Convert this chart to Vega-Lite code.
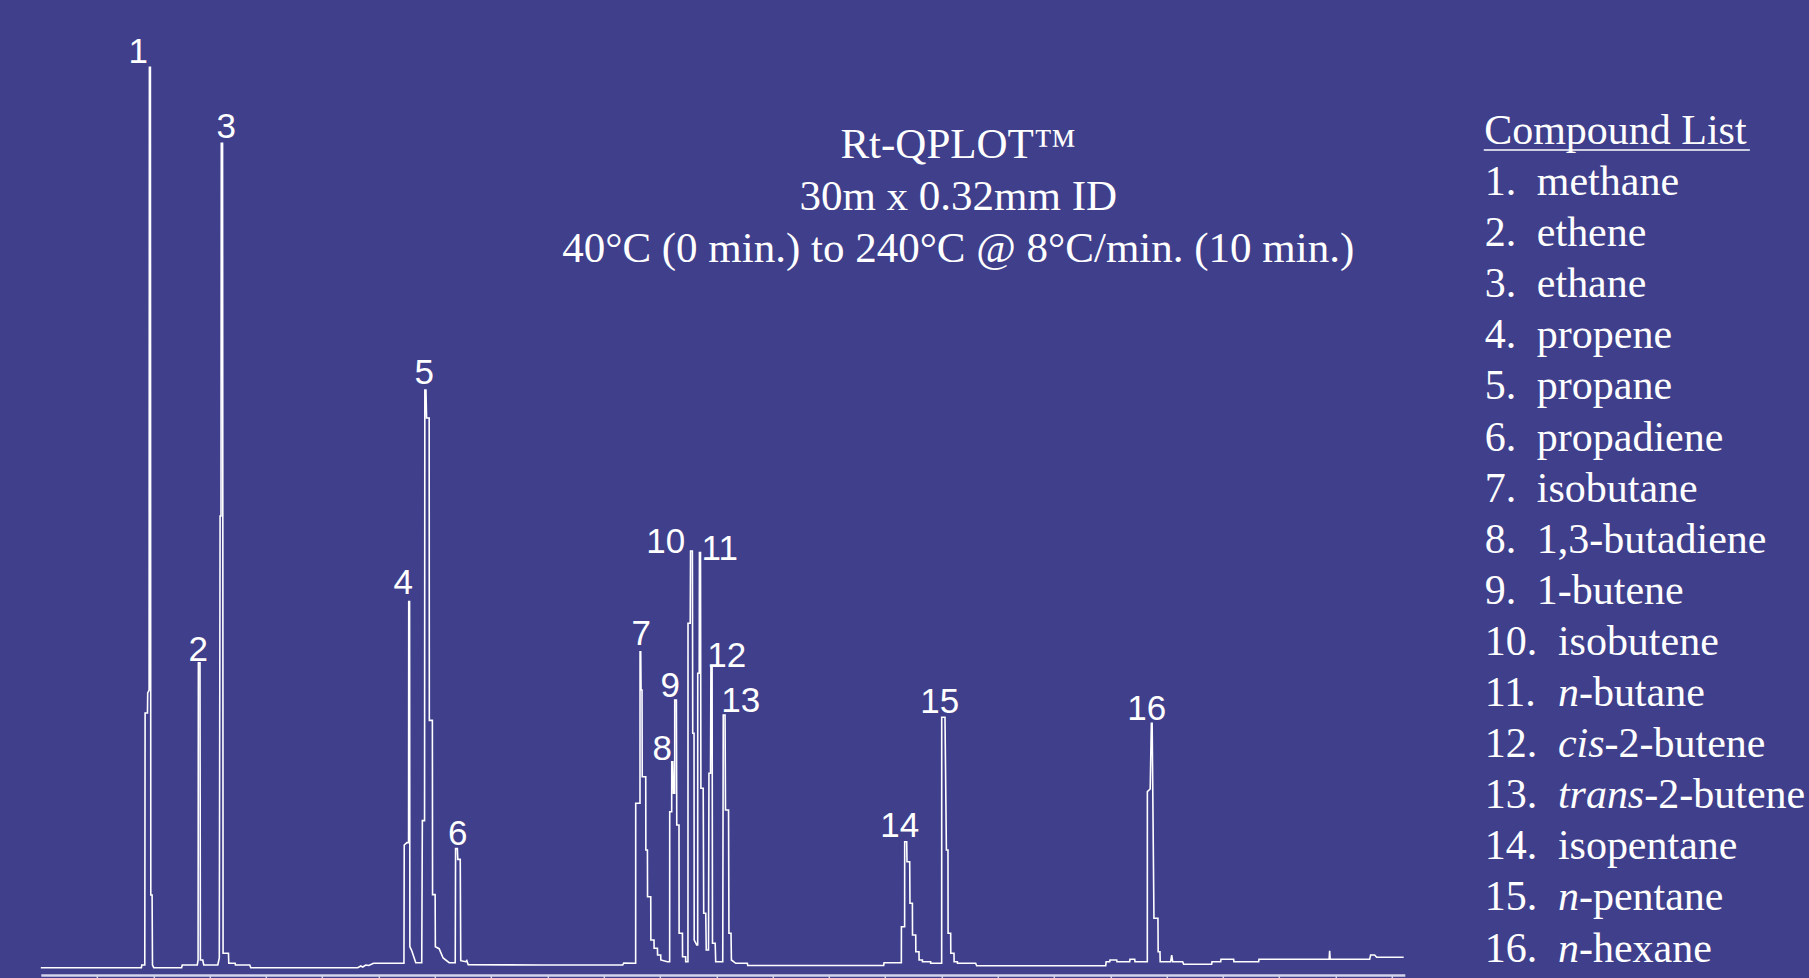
{
  "$schema": "https://vega.github.io/schema/vega-lite/v6.json",
  "background": "#3f3f8c",
  "padding": {"left": 36.8, "top": 0, "right": 0, "bottom": 0},
  "spacing": 0,
  "bounds": "flush",
  "config": {"view": {"stroke": null}},
  "resolve": {"scale": {"x": "independent", "y": "independent"}},
  "datasets": {
    "trace": [{"t":0,"h":7.3},{"t":1.787,"h":7.3},{"t":1.794,"h":10},{"t":1.847,"h":10},{"t":1.853,"h":262},{"t":1.895,"h":262},{"t":1.899,"h":282},{"t":1.924,"h":285},{"t":1.929,"h":907.7},{"t":1.947,"h":907.7},{"t":1.954,"h":80},{"t":1.977,"h":80},{"t":1.984,"h":10},{"t":2.007,"h":7.3},{"t":2.501,"h":7.3},{"t":2.513,"h":10},{"t":2.78,"h":10},{"t":2.794,"h":15},{"t":2.799,"h":312.3},{"t":2.828,"h":312.3},{"t":2.835,"h":15},{"t":2.877,"h":15},{"t":2.895,"h":10},{"t":3.144,"h":10},{"t":3.171,"h":17},{"t":3.185,"h":459},{"t":3.201,"h":459},{"t":3.206,"h":831.7},{"t":3.229,"h":831.7},{"t":3.238,"h":21.7},{"t":3.334,"h":21.7},{"t":3.339,"h":11.7},{"t":3.453,"h":11.7},{"t":3.458,"h":10},{"t":3.712,"h":10},{"t":3.73,"h":7.3},{"t":5.631,"h":7.3},{"t":5.684,"h":9},{"t":5.719,"h":8},{"t":5.773,"h":10},{"t":5.826,"h":9.5},{"t":5.911,"h":11.7},{"t":6.451,"h":11.7},{"t":6.456,"h":130},{"t":6.504,"h":132.4},{"t":6.533,"h":132.4},{"t":6.536,"h":373.5},{"t":6.551,"h":373.5},{"t":6.556,"h":28.3},{"t":6.59,"h":24.3},{"t":6.661,"h":12.3},{"t":6.767,"h":12.3},{"t":6.778,"h":154.4},{"t":6.817,"h":154.4},{"t":6.822,"h":585},{"t":6.842,"h":585},{"t":6.853,"h":557},{"t":6.899,"h":557},{"t":6.902,"h":254.6},{"t":6.956,"h":254.6},{"t":6.959,"h":80.4},{"t":7.005,"h":80.4},{"t":7.009,"h":28.3},{"t":7.076,"h":26.3},{"t":7.147,"h":17},{"t":7.254,"h":12.3},{"t":7.362,"h":12.3},{"t":7.368,"h":126.4},{"t":7.4,"h":126.4},{"t":7.407,"h":115.6},{"t":7.451,"h":115.6},{"t":7.46,"h":14.3},{"t":7.549,"h":13.3},{"t":7.567,"h":14.5},{"t":7.593,"h":10.3},{"t":8.881,"h":10},{"t":10.337,"h":10},{"t":10.355,"h":12},{"t":10.567,"h":11.7},{"t":10.568,"h":171.7},{"t":10.644,"h":171.7},{"t":10.645,"h":323.3},{"t":10.657,"h":323.3},{"t":10.663,"h":285},{"t":10.68,"h":285},{"t":10.684,"h":198.3},{"t":10.746,"h":198.3},{"t":10.748,"h":125},{"t":10.776,"h":125},{"t":10.778,"h":78.3},{"t":10.835,"h":78.3},{"t":10.837,"h":35},{"t":10.893,"h":35},{"t":10.895,"h":26.7},{"t":10.954,"h":26.7},{"t":10.956,"h":20},{"t":11.012,"h":20},{"t":11.014,"h":15},{"t":11.131,"h":13.3},{"t":11.171,"h":13.3},{"t":11.172,"h":163.3},{"t":11.207,"h":163.3},{"t":11.208,"h":213.3},{"t":11.226,"h":213.3},{"t":11.238,"h":181.7},{"t":11.26,"h":181.7},{"t":11.261,"h":275},{"t":11.291,"h":275},{"t":11.297,"h":150},{"t":11.337,"h":150},{"t":11.339,"h":41.7},{"t":11.398,"h":41.7},{"t":11.4,"h":18.3},{"t":11.455,"h":18.3},{"t":11.456,"h":13.3},{"t":11.496,"h":13.3},{"t":11.497,"h":351.7},{"t":11.536,"h":351.7},{"t":11.542,"h":424},{"t":11.575,"h":424},{"t":11.581,"h":241.7},{"t":11.604,"h":241.7},{"t":11.607,"h":35},{"t":11.652,"h":30},{"t":11.669,"h":30},{"t":11.67,"h":301.7},{"t":11.696,"h":301.7},{"t":11.7,"h":422.5},{"t":11.719,"h":422.5},{"t":11.726,"h":186.7},{"t":11.767,"h":186.7},{"t":11.776,"h":61.7},{"t":11.812,"h":61.7},{"t":11.821,"h":25},{"t":11.861,"h":25},{"t":11.869,"h":201.7},{"t":11.897,"h":201.7},{"t":11.904,"h":308.3},{"t":11.925,"h":308.3},{"t":11.932,"h":31.7},{"t":11.98,"h":31.7},{"t":11.989,"h":13.3},{"t":12.114,"h":13.3},{"t":12.123,"h":260},{"t":12.155,"h":260},{"t":12.163,"h":165},{"t":12.217,"h":165},{"t":12.224,"h":41.7},{"t":12.261,"h":41.7},{"t":12.268,"h":15},{"t":12.345,"h":11.7},{"t":12.552,"h":11.7},{"t":12.558,"h":9.5},{"t":14.973,"h":9.5},{"t":14.979,"h":12.3},{"t":15.287,"h":12.3},{"t":15.288,"h":48.3},{"t":15.345,"h":48.3},{"t":15.346,"h":133.3},{"t":15.382,"h":133.3},{"t":15.387,"h":113.3},{"t":15.435,"h":113.3},{"t":15.44,"h":71.7},{"t":15.483,"h":71.7},{"t":15.485,"h":40},{"t":15.542,"h":40},{"t":15.544,"h":23.3},{"t":15.6,"h":23.3},{"t":15.602,"h":15},{"t":15.661,"h":15},{"t":15.662,"h":13.3},{"t":15.807,"h":13.3},{"t":15.808,"h":11.7},{"t":16.003,"h":11.7},{"t":16.004,"h":257.7},{"t":16.062,"h":257.7},{"t":16.087,"h":125},{"t":16.115,"h":125},{"t":16.117,"h":41.7},{"t":16.163,"h":41.7},{"t":16.165,"h":21.7},{"t":16.222,"h":21.7},{"t":16.224,"h":13.3},{"t":16.282,"h":13.3},{"t":16.284,"h":11.7},{"t":16.607,"h":11.7},{"t":16.625,"h":9.3},{"t":18.917,"h":9.3},{"t":18.925,"h":13.3},{"t":18.988,"h":13.3},{"t":18.993,"h":15},{"t":19.112,"h":15},{"t":19.117,"h":13.3},{"t":19.343,"h":13.3},{"t":19.348,"h":15.7},{"t":19.432,"h":15.7},{"t":19.437,"h":13.3},{"t":19.656,"h":13.3},{"t":19.657,"h":183.3},{"t":19.707,"h":186},{"t":19.728,"h":251.7},{"t":19.742,"h":251.7},{"t":19.774,"h":56.7},{"t":19.845,"h":56.7},{"t":19.849,"h":23.3},{"t":19.881,"h":23.3},{"t":19.885,"h":13.3},{"t":20.071,"h":13.3},{"t":20.089,"h":20},{"t":20.107,"h":13.3},{"t":20.284,"h":13.3},{"t":20.302,"h":10.7},{"t":20.799,"h":10.7},{"t":20.805,"h":13.3},{"t":20.959,"h":13.3},{"t":20.965,"h":15.7},{"t":21.19,"h":15.7},{"t":21.195,"h":13.3},{"t":21.634,"h":13.3},{"t":21.639,"h":15.7},{"t":22.886,"h":15.7},{"t":22.895,"h":24.3},{"t":22.904,"h":15.7},{"t":23.606,"h":15.7},{"t":23.623,"h":20},{"t":23.694,"h":20},{"t":23.73,"h":17.7},{"t":24.21,"h":17.7}],
    "peaks": [{"peak":"1","lt":1.732,"lh":912.3},{"peak":"2","lt":2.797,"lh":314},{"peak":"3","lt":3.295,"lh":836.7},{"peak":"4","lt":6.44,"lh":381},{"peak":"5","lt":6.81,"lh":591},{"peak":"6","lt":7.405,"lh":130},{"peak":"7","lt":10.666,"lh":330},{"peak":"8","lt":11.039,"lh":215},{"peak":"9","lt":11.181,"lh":278},{"peak":"10","lt":11.101,"lh":422},{"peak":"11","lt":12.06,"lh":415},{"peak":"12","lt":12.185,"lh":308},{"peak":"13","lt":12.433,"lh":263},{"peak":"14","lt":15.258,"lh":138.3},{"peak":"15","lt":15.968,"lh":261.7},{"peak":"16","lt":19.645,"lh":255}],
    "caption": [{"lines": ["Rt-QPLOT™", "30m x 0.32mm ID", "40°C (0 min.) to 240°C @ 8°C/min. (10 min.)"]}],
    "compounds": [{"id":1,"num":"1.","pre":"","name":"methane"},{"id":2,"num":"2.","pre":"","name":"ethene"},{"id":3,"num":"3.","pre":"","name":"ethane"},{"id":4,"num":"4.","pre":"","name":"propene"},{"id":5,"num":"5.","pre":"","name":"propane"},{"id":6,"num":"6.","pre":"","name":"propadiene"},{"id":7,"num":"7.","pre":"","name":"isobutane"},{"id":8,"num":"8.","pre":"","name":"1,3-butadiene"},{"id":9,"num":"9.","pre":"","name":"1-butene"},{"id":10,"num":"10.","pre":"","name":"isobutene"},{"id":11,"num":"11.","pre":"n","name":"-butane"},{"id":12,"num":"12.","pre":"cis","name":"-2-butene"},{"id":13,"num":"13.","pre":"trans","name":"-2-butene"},{"id":14,"num":"14.","pre":"","name":"isopentane"},{"id":15,"num":"15.","pre":"n","name":"-pentane"},{"id":16,"num":"16.","pre":"n","name":"-hexane"}],
    "heading": [{"title":"Compound List"}]
  },
  "hconcat": [
    {
      "width": 1364,
      "height": 975,
      "layer": [
        {
          "data": {"name": "trace"},
          "mark": {"type": "line", "color": "#ffffff", "strokeWidth": 1.6},
          "encoding": {
            "x": {"field": "t", "type": "quantitative", "title": null,
                  "scale": {"domain": [0, 24.23], "nice": false, "zero": false},
                  "axis": {"values": [1,2,3,4,5,6,7,8,9,10,11,12,13,14,15,16,17,18,19,20,21,22,23,24], "labels": false, "title": null, "grid": false, "tickSize": 10, "tickColor": "#d4d4ee", "tickWidth": 1.5, "domainColor": "#d4d4ee", "domainWidth": 2.5}},
            "y": {"field": "h", "type": "quantitative", "title": null,
                  "scale": {"domain": [0, 975], "nice": false, "zero": false}, "axis": null}
          }
        },
        {
          "data": {"name": "peaks"},
          "mark": {"type": "text", "font": "Liberation Sans", "fontSize": 35, "color": "#ffffff", "align": "center", "baseline": "alphabetic"},
          "encoding": {
            "x": {"field": "lt", "type": "quantitative", "title": null},
            "y": {"field": "lh", "type": "quantitative", "title": null},
            "text": {"field": "peak"}
          }
        },
        {
          "data": {"name": "caption"},
          "mark": {"type": "text", "font": "Liberation Serif", "fontSize": 43, "color": "#ffffff", "align": "center", "baseline": "alphabetic", "lineHeight": 52.5},
          "encoding": {
            "x": {"datum": 16.297, "type": "quantitative", "title": null},
            "y": {"datum": 817.5, "type": "quantitative", "title": null},
            "text": {"field": "lines"}
          }
        }
      ]
    },
    {
      "width": 405,
      "height": 975,
      "layer": [
        {
          "data": {"name": "compounds"},
          "mark": {"type": "text", "font": "Liberation Serif", "fontSize": 42, "color": "#ffffff", "align": "left", "baseline": "alphabetic"},
          "encoding": {
            "x": {"datum": 19.75, "type": "quantitative", "scale": {"domain": [0, 100], "nice": false, "zero": false}, "axis": null},
            "y": {"field": "id", "type": "quantitative", "scale": {"domain": [-2.816, 16.264], "reverse": true, "nice": false, "zero": false}, "axis": null},
            "text": {"field": "num"}
          }
        },
        {
          "data": {"name": "compounds"},
          "transform": [{"filter": "datum.id <= 9"}],
          "mark": {"type": "text", "font": "Liberation Serif", "fontSize": 42, "color": "#ffffff", "align": "left", "baseline": "alphabetic"},
          "encoding": {
            "x": {"datum": 32.6, "type": "quantitative"},
            "y": {"field": "id", "type": "quantitative"},
            "text": {"field": "name"}
          }
        },
        {
          "data": {"name": "compounds"},
          "transform": [{"filter": "datum.id >= 10 && datum.pre == ''"}],
          "mark": {"type": "text", "font": "Liberation Serif", "fontSize": 42, "color": "#ffffff", "align": "left", "baseline": "alphabetic"},
          "encoding": {
            "x": {"datum": 37.8, "type": "quantitative"},
            "y": {"field": "id", "type": "quantitative"},
            "text": {"field": "name"}
          }
        },
        {
          "data": {"name": "compounds"},
          "transform": [{"filter": "datum.pre != ''"}],
          "mark": {"type": "text", "font": "Liberation Serif", "fontSize": 42, "fontStyle": "italic", "color": "#ffffff", "align": "left", "baseline": "alphabetic"},
          "encoding": {
            "x": {"datum": 37.8, "type": "quantitative"},
            "y": {"field": "id", "type": "quantitative"},
            "text": {"field": "pre"}
          }
        },
        {
          "data": {"name": "compounds"},
          "transform": [{"filter": "datum.pre == 'n'"}],
          "mark": {"type": "text", "font": "Liberation Serif", "fontSize": 42, "color": "#ffffff", "align": "left", "baseline": "alphabetic"},
          "encoding": {
            "x": {"datum": 42.99, "type": "quantitative"},
            "y": {"field": "id", "type": "quantitative"},
            "text": {"field": "name"}
          }
        },
        {
          "data": {"name": "compounds"},
          "transform": [{"filter": "datum.pre == 'cis'"}],
          "mark": {"type": "text", "font": "Liberation Serif", "fontSize": 42, "color": "#ffffff", "align": "left", "baseline": "alphabetic"},
          "encoding": {
            "x": {"datum": 49.33, "type": "quantitative"},
            "y": {"field": "id", "type": "quantitative"},
            "text": {"field": "name"}
          }
        },
        {
          "data": {"name": "compounds"},
          "transform": [{"filter": "datum.pre == 'trans'"}],
          "mark": {"type": "text", "font": "Liberation Serif", "fontSize": 42, "color": "#ffffff", "align": "left", "baseline": "alphabetic"},
          "encoding": {
            "x": {"datum": 59.13, "type": "quantitative"},
            "y": {"field": "id", "type": "quantitative"},
            "text": {"field": "name"}
          }
        },
        {
          "data": {"name": "heading"},
          "mark": {"type": "text", "font": "Liberation Serif", "fontSize": 42, "color": "#ffffff", "align": "left", "baseline": "alphabetic"},
          "encoding": {
            "x": {"datum": 19.6, "type": "quantitative"},
            "y": {"datum": 0, "type": "quantitative"},
            "text": {"field": "title"}
          }
        },
        {
          "data": {"name": "heading"},
          "mark": {"type": "rule", "color": "#ffffff", "strokeWidth": 1.6},
          "encoding": {
            "x": {"datum": 19.5, "type": "quantitative"},
            "x2": {"datum": 85.2},
            "y": {"datum": 0.12, "type": "quantitative"}
          }
        }
      ]
    }
  ]
}
